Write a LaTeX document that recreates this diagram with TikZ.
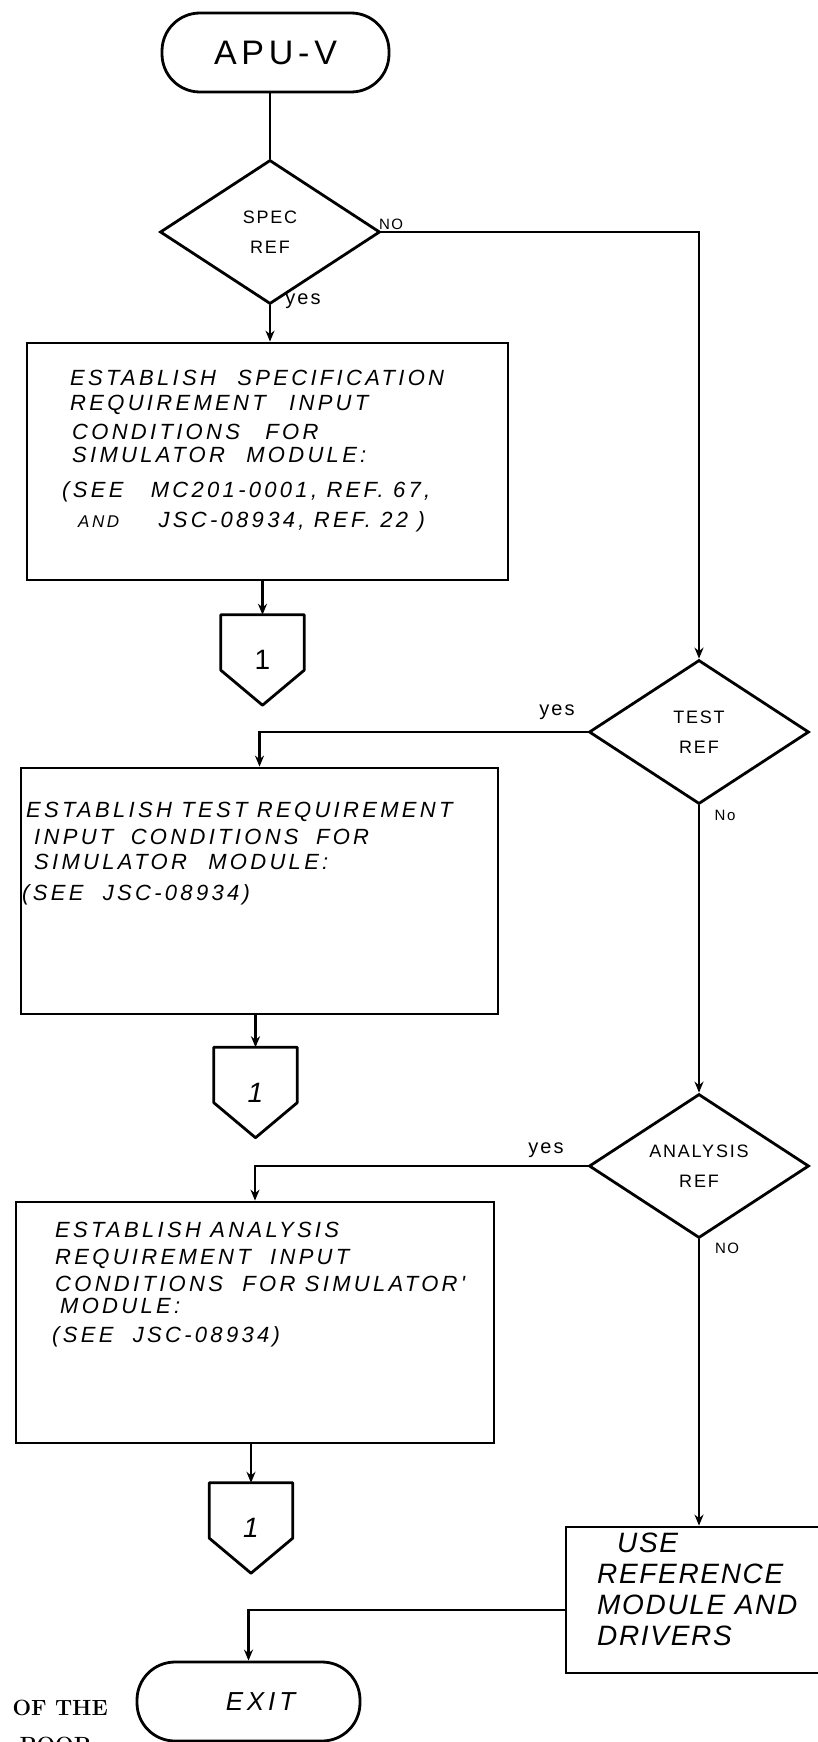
\documentclass[tikz,border=0pt]{standalone}
\usepackage{fontspec}
\usetikzlibrary{shapes.geometric,arrows.meta,calc}
\newfontfamily\handfont[LetterSpace=15]{Liberation Sans}
\newfontfamily\apufamily[LetterSpace=14]{Liberation Sans}
\newfontfamily\decfamily[LetterSpace=10]{Liberation Sans}
\newfontfamily\refboxfamily[LetterSpace=6]{Liberation Sans}
\begin{document}
\begin{tikzpicture}[x=1pt,y=-1pt,
  ln/.style={line width=2.8pt},
  arr/.style={ln,-{Stealth[length=11pt,width=9pt]}},
  term/.style={draw,ln,rectangle,rounded corners=38pt,inner sep=0pt},
  decision/.style={draw,ln,diamond,minimum width=220pt,minimum height=144pt,inner sep=0pt,align=center,font=\decfamily\fontsize{18}{30}\selectfont},
  procbox/.style={draw,ln,rectangle,inner sep=0pt},
  boxtext/.style={anchor=north west,inner sep=0pt,align=left,font=\handfont\itshape\fontsize{22}{25}\selectfont},
  offpage/.style={inner sep=0pt,minimum width=83pt,minimum height=90pt,font=\handfont\fontsize{28}{28}\selectfont},
  lab/.style={inner sep=0pt,font=\decfamily\fontsize{15}{15}\selectfont},
  yeslab/.style={inner sep=0pt,font=\decfamily\fontsize{20}{20}\selectfont},
  scan/.style={inner sep=0pt,font=\rmfamily\bfseries\fontsize{22}{22}\selectfont},
]
\fill[white] (0,0) rectangle (817,1742);
\useasboundingbox (0,0) rectangle (817,1742);

% nodes
\node[term,minimum width=227pt,minimum height=79pt,font=\apufamily\fontsize{34}{34}\selectfont] (apu) at (275.5,52.5) {APU-V};
\node[decision] (spec) at (270,232) {SPEC\\REF};
\node[procbox,minimum width=481pt,minimum height=237pt] (box1) at (267.5,461.5) {};
\node[boxtext] (t1) at (62,370) {%
\hspace*{8pt}ESTABLISH\hspace{12pt} SPECIFICATION\\[0pt]
\hspace*{8pt}REQUIREMENT\hspace{14pt} INPUT\\[4pt]
\hspace*{10pt}CONDITIONS\hspace{16pt} FOR\\[-2pt]
\hspace*{10pt}SIMULATOR\hspace{12pt} MODULE:\\[10pt]
(SEE\hspace{18pt} MC201-0001, REF. 67,\\[5pt]
\hspace*{16pt}{\fontsize{17}{17}\selectfont AND}\hspace{30pt} JSC-08934, REF. 22 )};
\node[offpage] (p1) at (262.5,660) {1};

\node[decision] (tst) at (699,732) {TEST\\REF};
\node[procbox,minimum width=477pt,minimum height=246pt] (box2) at (259.5,891) {};
\node[boxtext] (t2) at (22,802) {%
\hspace*{4pt}ESTABLISH TEST REQUIREMENT\\[2pt]
\hspace*{12pt}INPUT\hspace{8pt} CONDITIONS\hspace{8pt} FOR\\
\hspace*{12pt}SIMULATOR\hspace{12pt} MODULE:\\[6pt]
(SEE\hspace{10pt} JSC-08934)};
\node[offpage,font=\handfont\itshape\fontsize{28}{28}\selectfont] (p2) at (255.5,1092.5) {1};

\node[decision] (an) at (699,1166) {ANALYSIS\\REF};
\node[procbox,minimum width=478pt,minimum height=241pt] (box3) at (255,1322.5) {};
\node[boxtext] (t3) at (52,1222) {%
\hspace*{3pt}ESTABLISH ANALYSIS\\[2pt]
\hspace*{3pt}REQUIREMENT\hspace{10pt} INPUT\\[2pt]
\hspace*{3pt}CONDITIONS\hspace{10pt} FOR SIMULATOR'\\[-3pt]
\hspace*{8pt}MODULE:\\[4pt]
(SEE\hspace{10pt} JSC-08934)};
\node[offpage,font=\handfont\itshape\fontsize{28}{28}\selectfont] (p3) at (251,1528) {1};

\node[procbox,minimum width=274pt,minimum height=146pt] (use) at (703,1600) {};
\node[boxtext,font=\refboxfamily\itshape\fontsize{28}{31}\selectfont] (t4) at (597,1533) {%
\hspace*{20pt}USE\\REFERENCE\\MODULE AND\\DRIVERS};
\node[term,minimum width=223pt,minimum height=79pt,
  label={[inner sep=0pt,xshift=12pt,font=\handfont\itshape\fontsize{26}{26}\selectfont]center:EXIT}] (exit) at (248.5,1701.5) {};

% off-page connector outlines
\foreach \p in {p1,p2,p3}
  \draw[ln,line join=round] (\p.north west) -- (\p.north east) -- ([yshift=35pt]\p.south east) -- (\p.south) -- ([yshift=35pt]\p.south west) -- cycle;

% connectors
\draw[ln] (spec.north |- apu.south) -- (spec.north);
\draw[arr] (spec.south) -- (spec.south |- box1.north);
\draw[arr] (spec.east) -| (tst.north);
\draw[arr] (p1.north |- box1.south) -- (p1.north);
\draw[arr] (tst.west) -| (box2.north);
\draw[arr] (tst.south) -- (an.north);
\draw[arr] (p2.north |- box2.south) -- (p2.north);
\draw[arr] (an.west) -| (box3.north);
\draw[arr] (an.south) -- (an.south |- use.north);
\draw[arr] (p3.north |- box3.south) -- (p3.north);
\draw[arr] ([yshift=-10pt]use.west) -| (exit.north);

% branch labels
\node[yeslab] (y1) at (303,301) {yes};
\node[lab] (n1) at (391,224) {NO};
\node[yeslab] (y2) at (557,712) {yes};
\node[lab] (n2) at (725,815) {No};
\node[yeslab] (y3) at (546,1150) {yes};
\node[lab] (n3) at (727,1248) {NO};

% scanned page remnants
\node[scan,anchor=east] (s1) at (108,1708) {OF THE};
\node[scan] (s2) at (56,1745) {POOR};
\end{tikzpicture}
\end{document}
